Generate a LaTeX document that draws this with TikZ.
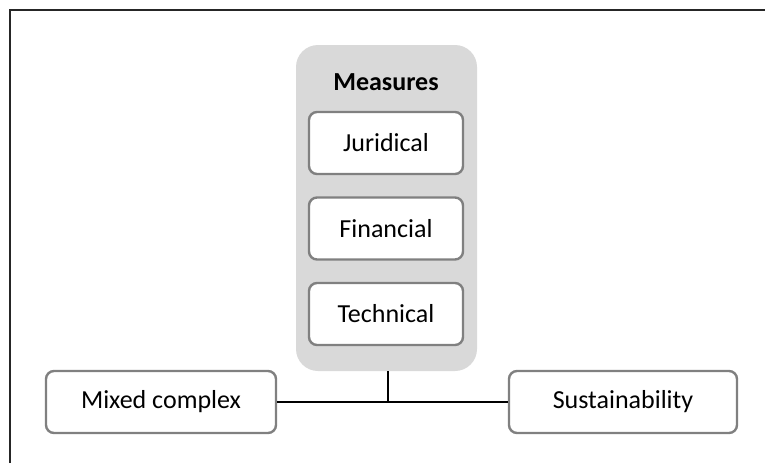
\documentclass[tikz,border=0pt]{standalone}
\usepackage{fontspec}
\setmainfont{Carlito}
\begin{document}
\begin{tikzpicture}[x=1pt,y=-1pt,
  box/.style={draw=black!50, line width=2.4pt, rounded corners=8pt, fill=white, minimum width=#1, minimum height=62pt, inner sep=0pt, font=\fontsize{26}{30}\selectfont},
  box/.default=154pt,
  conn/.style={draw=black, line width=1.2pt}]
\useasboundingbox (0,0) rectangle (765,463);
\draw[line width=2pt, black!85] (10,463) -- (10,10) -- (765,10);
\node[fill=black!15, rounded corners=22pt, minimum width=181pt, minimum height=326pt, inner sep=0pt] (cont) at (386.5,208) {};
\node[font=\bfseries\fontsize{26}{30}\selectfont] (meas) at (386,82) {Measures};
\node[box] (jur) at (386,143) {Juridical};
\node[box] (fin) at (386,228.5) {Financial};
\node[box] (tec) at (386,314) {Technical};
\node[box=230pt] (mix) at (161,402) {Mixed complex};
\node[box=228pt] (sus) at (623,402) {Sustainability};
\coordinate (j) at (388,402);
\draw[conn] (cont.south -| j) -- (j);
\draw[conn] (mix.east) -- (sus.west);
\end{tikzpicture}
\end{document}
